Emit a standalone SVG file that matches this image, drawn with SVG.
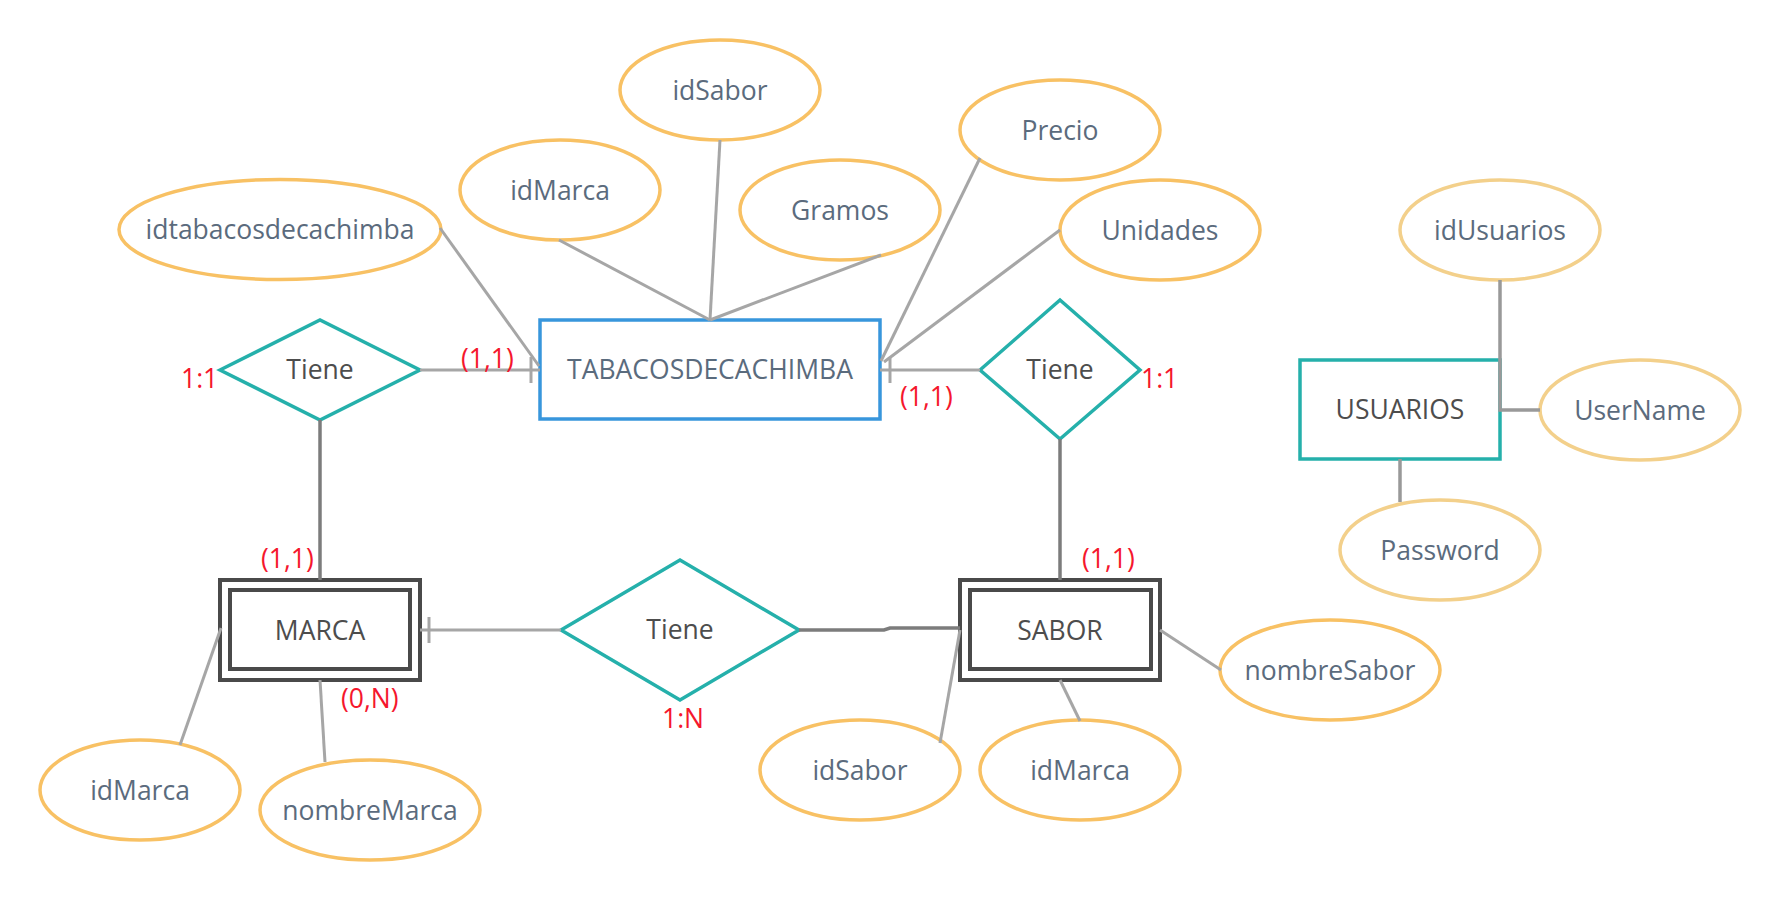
<svg xmlns="http://www.w3.org/2000/svg" width="1780" height="900" viewBox="0 0 1780 900">
<style>
  text { font-family: "Open Sans", "Noto Sans", "DejaVu Sans", sans-serif; font-size: 26.5px; text-anchor: middle; }
  .attr ellipse { fill: #ffffff; stroke: #f8c164; stroke-width: 3.5; }
  .attr.pale ellipse { stroke: #f3d08b; }
  .attr text { fill: #5b6b7d; }
  .rel polygon { fill: #ffffff; stroke: #25b0ab; stroke-width: 3.5; }
  .rel text, .ent text { fill: #4d4d4d; }
  .weak rect { fill: #ffffff; stroke: #4a4a4a; stroke-width: 4; }
  .card { fill: #f5172d; text-anchor: start; }
  .lc { stroke: #a6a6a6; stroke-width: 3; fill: none; }
  .dc { stroke: #7c7c7c; stroke-width: 3.5; fill: none; }
  .uc { stroke: #999999; stroke-width: 3.5; fill: none; }
</style>
<rect width="1780" height="900" fill="#ffffff"/>

<g id="TABACOSDECACHIMBA" class="ent">
  <rect x="540" y="320" width="340" height="99" fill="#ffffff" stroke="#3896dc" stroke-width="3.5"/>
  <text x="710" y="379" fill="#5a6b7d" style="fill:#5a6b7d">TABACOSDECACHIMBA</text>
</g>

<g id="USUARIOS" class="ent">
  <rect x="1300" y="360" width="200" height="99" fill="#ffffff" stroke="#25b0ab" stroke-width="3.5"/>
  <text x="1400" y="419">USUARIOS</text>
</g>

<g id="MARCA" class="ent weak">
  <rect x="220" y="580" width="200" height="100"/>
  <rect x="230" y="590" width="180" height="79"/>
  <text x="320" y="640">MARCA</text>
</g>

<g id="SABOR" class="ent weak">
  <rect x="960" y="580" width="200" height="100"/>
  <rect x="970" y="590" width="181" height="79"/>
  <text x="1060" y="640">SABOR</text>
</g>

<g id="rel-tiene-marca" class="rel">
  <polygon points="220,370 320,320 420,370 320,420"/>
  <text x="320" y="379">Tiene</text>
</g>

<g id="rel-tiene-sabor" class="rel">
  <polygon points="980,370 1060,300 1140,370 1060,439"/>
  <text x="1060" y="379">Tiene</text>
</g>

<g id="rel-tiene-marca-sabor" class="rel">
  <polygon points="561,630 680,560 799,630 680,700"/>
  <text x="680" y="639">Tiene</text>
</g>

<g id="attr-idtabacosdecachimba" class="attr">
  <ellipse cx="280" cy="229.5" rx="161" ry="50"/>
  <text x="280" y="239">idtabacosdecachimba</text>
</g>
<g id="attr-idMarca-top" class="attr">
  <ellipse cx="560" cy="190" rx="100" ry="50"/>
  <text x="560" y="199.5">idMarca</text>
</g>
<g id="attr-idSabor-top" class="attr">
  <ellipse cx="720" cy="90" rx="100" ry="50"/>
  <text x="720" y="99.5">idSabor</text>
</g>
<g id="attr-Gramos" class="attr">
  <ellipse cx="840" cy="210" rx="100" ry="50"/>
  <text x="840" y="219.5">Gramos</text>
</g>
<g id="attr-Precio" class="attr">
  <ellipse cx="1060" cy="130" rx="100" ry="50"/>
  <text x="1060" y="139.5">Precio</text>
</g>
<g id="attr-Unidades" class="attr">
  <ellipse cx="1160" cy="230" rx="100" ry="50"/>
  <text x="1160" y="239.5">Unidades</text>
</g>
<g id="attr-idUsuarios" class="attr pale">
  <ellipse cx="1500" cy="230" rx="100" ry="50"/>
  <text x="1500" y="239.5">idUsuarios</text>
</g>
<g id="attr-UserName" class="attr pale">
  <ellipse cx="1640" cy="410" rx="100" ry="50"/>
  <text x="1640" y="419.5">UserName</text>
</g>
<g id="attr-Password" class="attr pale">
  <ellipse cx="1440" cy="550" rx="100" ry="50"/>
  <text x="1440" y="559.5">Password</text>
</g>
<g id="attr-idMarca-marca" class="attr">
  <ellipse cx="140" cy="790" rx="100" ry="50"/>
  <text x="140" y="799.5">idMarca</text>
</g>
<g id="attr-nombreMarca" class="attr">
  <ellipse cx="370" cy="810" rx="110" ry="50"/>
  <text x="370" y="819.5">nombreMarca</text>
</g>
<g id="attr-idSabor-sabor" class="attr">
  <ellipse cx="860" cy="770" rx="100" ry="50"/>
  <text x="860" y="779.5">idSabor</text>
</g>
<g id="attr-idMarca-sabor" class="attr">
  <ellipse cx="1080" cy="770" rx="100" ry="50"/>
  <text x="1080" y="779.5">idMarca</text>
</g>
<g id="attr-nombreSabor" class="attr">
  <ellipse cx="1330" cy="670" rx="110" ry="50"/>
  <text x="1330" y="679.5">nombreSabor</text>
</g>

<g id="connectors">
  <line class="lc" x1="440" y1="228" x2="539" y2="366"/>
  <line class="lc" x1="559" y1="240" x2="710" y2="320"/>
  <line class="lc" x1="720" y1="140" x2="710" y2="320"/>
  <line class="lc" x1="881" y1="255" x2="710" y2="320"/>
  <line class="lc" x1="980" y1="158" x2="881" y2="361"/>
  <line class="lc" x1="1060" y1="230" x2="884" y2="362"/>
  <line class="lc" x1="420" y1="370" x2="540" y2="370"/>
  <line class="lc" x1="531" y1="357" x2="531" y2="383"/>
  <line class="lc" x1="980" y1="370" x2="880" y2="370"/>
  <line class="lc" x1="890" y1="357" x2="890" y2="383"/>
  <line class="dc" x1="320" y1="420" x2="320" y2="580"/>
  <line class="dc" x1="1060" y1="439" x2="1060" y2="580"/>
  <line class="lc" x1="420" y1="630" x2="561" y2="630"/>
  <line class="lc" x1="429" y1="617" x2="429" y2="643"/>
  <polyline class="dc" points="799,630 884,630 890,628 960,628"/>
  <line class="lc" x1="221" y1="628" x2="180" y2="745"/>
  <line class="lc" x1="320" y1="680" x2="325" y2="762"/>
  <line class="lc" x1="960" y1="630" x2="940" y2="743"/>
  <line class="lc" x1="1060" y1="680" x2="1080" y2="721"/>
  <line class="lc" x1="1160" y1="630" x2="1221" y2="670"/>
  <polyline class="uc" points="1500,280 1500,410 1540,410"/>
  <line class="uc" x1="1400" y1="459" x2="1400" y2="502"/>
</g>

<g id="cardinalities">
  <text class="card" x="181" y="388">1:1</text>
  <text class="card" x="461" y="368">(1,1)</text>
  <text class="card" x="900" y="406">(1,1)</text>
  <text class="card" x="1141" y="388">1:1</text>
  <text class="card" x="261" y="568">(1,1)</text>
  <text class="card" x="1082" y="568">(1,1)</text>
  <text class="card" x="341" y="708">(0,N)</text>
  <text class="card" x="662" y="728">1:N</text>
</g>
</svg>
